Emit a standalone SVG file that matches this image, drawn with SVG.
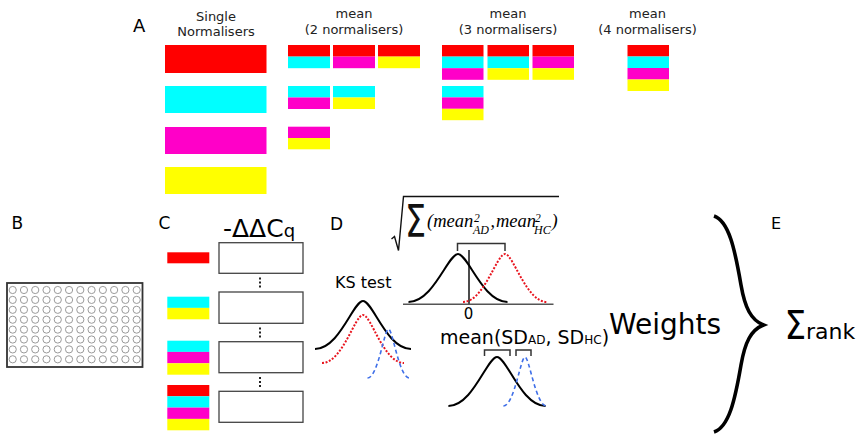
<svg xmlns="http://www.w3.org/2000/svg" xmlns:xlink="http://www.w3.org/1999/xlink" width="858" height="443" viewBox="0 0 858 443">
<style>
text{font-family:"DejaVu Sans","Liberation Sans",sans-serif;fill:#000}
.lbl{font-size:17px}
.ttl{font-size:13px;text-anchor:middle;fill:#222}
.r{fill:#ff0000}.c{fill:#00ffff}.m{fill:#ff00c8}.y{fill:#ffff00}
.box{fill:#fff;stroke:#444;stroke-width:1.3}
.dots{stroke:#222;stroke-width:2;stroke-dasharray:2,2}
.well{fill:none;stroke:#9a9a9a;stroke-width:1}
.blk{fill:none;stroke:#000;stroke-width:2}
.red{fill:none;stroke:#e8141e;stroke-width:2;stroke-dasharray:2,1.6}
.blu{fill:none;stroke:#3f6fe8;stroke-width:1.6;stroke-dasharray:4,3}
.brk{fill:none;stroke:#333;stroke-width:1.5}
.mth{font-family:"Liberation Serif","DejaVu Serif",serif;font-style:italic;fill:#000}
</style>
<defs>
<g id="wellrow">
<circle class="well" cx="12.7" cy="0" r="3.6"/><circle class="well" cx="23.97" cy="0" r="3.6"/><circle class="well" cx="35.24" cy="0" r="3.6"/><circle class="well" cx="46.51" cy="0" r="3.6"/><circle class="well" cx="57.78" cy="0" r="3.6"/><circle class="well" cx="69.05" cy="0" r="3.6"/><circle class="well" cx="80.32" cy="0" r="3.6"/><circle class="well" cx="91.59" cy="0" r="3.6"/><circle class="well" cx="102.86" cy="0" r="3.6"/><circle class="well" cx="114.13" cy="0" r="3.6"/><circle class="well" cx="125.4" cy="0" r="3.6"/><circle class="well" cx="136.67" cy="0" r="3.6"/>
</g>
</defs>
<rect width="858" height="443" fill="#fff"/>

<!-- Panel A -->
<g id="panelA">
<text class="lbl" x="133" y="32" style="font-size:18px">A</text>
<g id="single">
<text class="ttl" x="216" y="21">Single</text>
<text class="ttl" x="216" y="36">Normalisers</text>
<rect class="r" x="165" y="45" width="101.5" height="28"/>
<rect class="c" x="165" y="86" width="101.5" height="27"/>
<rect class="m" x="165" y="127" width="101.5" height="27"/>
<rect class="y" x="165" y="167" width="101.5" height="27"/>
</g>
<g id="mean2">
<text class="ttl" x="354" y="18">mean</text>
<text class="ttl" x="354" y="34">(2 normalisers)</text>
<rect class="r" x="288" y="45" width="42" height="11.6"/><rect class="c" x="288" y="56.6" width="42" height="11.6"/>
<rect class="r" x="333" y="45" width="42" height="11.6"/><rect class="m" x="333" y="56.6" width="42" height="11.6"/>
<rect class="r" x="378" y="45" width="42" height="11.6"/><rect class="y" x="378" y="56.6" width="42" height="11.6"/>
<rect class="c" x="288" y="86" width="42" height="11.5"/><rect class="m" x="288" y="97.5" width="42" height="11.5"/>
<rect class="c" x="333" y="86" width="42" height="11.5"/><rect class="y" x="333" y="97.5" width="42" height="11.5"/>
<rect class="m" x="288" y="126.7" width="42" height="11.3"/><rect class="y" x="288" y="138" width="42" height="11.3"/>
</g>
<g id="mean3">
<text class="ttl" x="508" y="18">mean</text>
<text class="ttl" x="508" y="34">(3 normalisers)</text>
<rect class="r" x="442" y="45" width="41.5" height="11.6"/><rect class="c" x="442" y="56.6" width="41.5" height="11.6"/><rect class="m" x="442" y="68.2" width="41.5" height="11.6"/>
<rect class="r" x="487.5" y="45" width="41.5" height="11.6"/><rect class="c" x="487.5" y="56.6" width="41.5" height="11.6"/><rect class="y" x="487.5" y="68.2" width="41.5" height="11.6"/>
<rect class="r" x="532.5" y="45" width="41.5" height="11.6"/><rect class="m" x="532.5" y="56.6" width="41.5" height="11.6"/><rect class="y" x="532.5" y="68.2" width="41.5" height="11.6"/>
<rect class="c" x="442" y="86" width="41.5" height="11.4"/><rect class="m" x="442" y="97.4" width="41.5" height="11.4"/><rect class="y" x="442" y="108.8" width="41.5" height="11.4"/>
</g>
<g id="mean4">
<text class="ttl" x="647.5" y="18">mean</text>
<text class="ttl" x="647.5" y="34">(4 normalisers)</text>
<rect class="r" x="627.5" y="45" width="41.5" height="11.5"/><rect class="c" x="627.5" y="56.5" width="41.5" height="11.5"/><rect class="m" x="627.5" y="68" width="41.5" height="11.5"/><rect class="y" x="627.5" y="79.5" width="41.5" height="11.5"/>
</g>
</g>

<!-- Panel B -->
<g id="panelB">
<text class="lbl" x="11.5" y="229">B</text>
<rect x="7" y="283" width="135.5" height="84" fill="#fff" stroke="#333" stroke-width="1.8"/>
<use xlink:href="#wellrow" y="290"/><use xlink:href="#wellrow" y="299.9"/><use xlink:href="#wellrow" y="309.8"/><use xlink:href="#wellrow" y="319.7"/>
<use xlink:href="#wellrow" y="329.6"/><use xlink:href="#wellrow" y="339.5"/><use xlink:href="#wellrow" y="349.4"/><use xlink:href="#wellrow" y="359.3"/>
</g>

<!-- Panel C -->
<g id="panelC">
<text class="lbl" x="158.5" y="229">C</text>
<text x="223" y="237" style="font-size:25px">-ΔΔC<tspan style="font-size:18px">q</tspan></text>
<g id="c-row1">
<rect class="r" x="167.3" y="252.3" width="42" height="11"/>
<rect class="box" x="219" y="242.7" width="84" height="30.6"/>
</g>
<g id="c-row2">
<rect class="c" x="167.3" y="296.7" width="42" height="11.2"/><rect class="y" x="167.3" y="307.9" width="42" height="11.4"/>
<rect class="box" x="219" y="292" width="84" height="31.3"/>
</g>
<g id="c-row3">
<rect class="c" x="167.3" y="340.7" width="42" height="11.2"/><rect class="m" x="167.3" y="351.9" width="42" height="11.4"/><rect class="y" x="167.3" y="363.3" width="42" height="11.4"/>
<rect class="box" x="219" y="341.7" width="84" height="31"/>
</g>
<g id="c-row4">
<rect class="r" x="167.3" y="385" width="42" height="11.3"/><rect class="c" x="167.3" y="396.3" width="42" height="11.3"/><rect class="m" x="167.3" y="407.6" width="42" height="11.3"/><rect class="y" x="167.3" y="418.9" width="42" height="11.4"/>
<rect class="box" x="219" y="391.3" width="84" height="31"/>
</g>
<line class="dots" x1="260" y1="277.5" x2="260" y2="288"/>
<line class="dots" x1="260" y1="327.5" x2="260" y2="338"/>
<line class="dots" x1="260" y1="377" x2="260" y2="387.5"/>
</g>

<!-- Panel D -->
<g id="panelD">
<text class="lbl" x="330" y="230">D</text>
<g id="formula">
<path d="M391.5,239 L394.5,236.5 L398.5,250.5 L403.5,196.5 L559,196.5" fill="none" stroke="#111" stroke-width="1.4"/>
<text transform="translate(405,237) scale(0.76,1)" style="font-size:44px;fill:#111">Σ</text>
<text class="mth" x="427" y="227" style="font-size:18.5px">(mean</text>
<text class="mth" x="474" y="222" style="font-size:11.5px">2</text>
<text class="mth" x="473" y="234" style="font-size:12px">AD</text>
<text class="mth" x="490.5" y="227" style="font-size:18px">,</text>
<text class="mth" x="496" y="227" style="font-size:18.5px">mean</text>
<text class="mth" x="535" y="222" style="font-size:11.5px">2</text>
<text class="mth" x="534" y="234" style="font-size:12px">HC</text>
<text class="mth" x="551.5" y="227" style="font-size:18.5px">)</text>
</g>
<g id="mean-diff">
<path class="brk" d="M457.5,251 V243.5 H505 V251"/>
<line x1="469" y1="250" x2="469" y2="304" stroke="#111" stroke-width="1.5"/>
<path class="blk" d="M408.5,302 C433.25,302 448.1,254 458,254 C467.9,254 482.75,302 507.5,302"/>
<path class="red" d="M463,302 C484,302 496.6,254 505,254 C513.4,254 526,302 547,302"/>
<line x1="403" y1="304.3" x2="553.5" y2="304.3" stroke="#555" stroke-width="1.5"/>
<text x="468.5" y="319" style="font-size:15px;text-anchor:middle">0</text>
</g>
<g id="ks-test">
<text x="335" y="288" style="font-size:16px">KS test</text>
<path class="blk" d="M315,349 C339.3,349 353.3,301 363,301 C372.7,301 386.7,349 411,349"/>
<path class="red" d="M322,363 C342.5,363 354.8,315 363,315 C371.2,315 383.5,363 404,363"/>
<path class="blu" d="M367.5,378 C378,378 384.3,329 388.5,329 C392.7,329 399,378 409.5,378"/>
</g>
<g id="sd-mean">
<text x="440" y="344" style="font-size:19px">mean(SD<tspan style="font-size:12px">AD</tspan>, SD<tspan style="font-size:12px">HC</tspan>)</text>
<path class="brk" d="M484.5,356 V350 H510 V356"/>
<path class="brk" d="M516,356 V350 H531 V356"/>
<path class="blk" d="M448.4,406 C472.7,406 487.3,357 497,357 C506.7,357 521.3,406 545.6,406"/>
<path class="blu" d="M503.4,406 C514.2,406 520.7,357 525,357 C529.3,357 535.8,406 546.6,406"/>
</g>
</g>

<!-- Weights -->
<g id="weights">
<text x="609" y="333.5" style="font-size:28px">Weights</text>
</g>

<!-- Connectors -->
<g id="connectors">
<path d="M714,216 C729,221 735,250 741,285 C745,308 751,320 763.5,325 C751,330 745,342 741,365 C735,400 729,427 714,432" fill="none" stroke="#000" stroke-width="3.6" stroke-linejoin="miter"/>
</g>

<!-- Panel E -->
<g id="panelE">
<text x="771" y="228.5" style="font-size:16px">E</text>
<text transform="translate(784.5,338.5) scale(0.88,1)" style="font-size:39px">Σ</text>
<text x="806" y="338.5" style="font-size:22px">rank</text>
</g>
</svg>
